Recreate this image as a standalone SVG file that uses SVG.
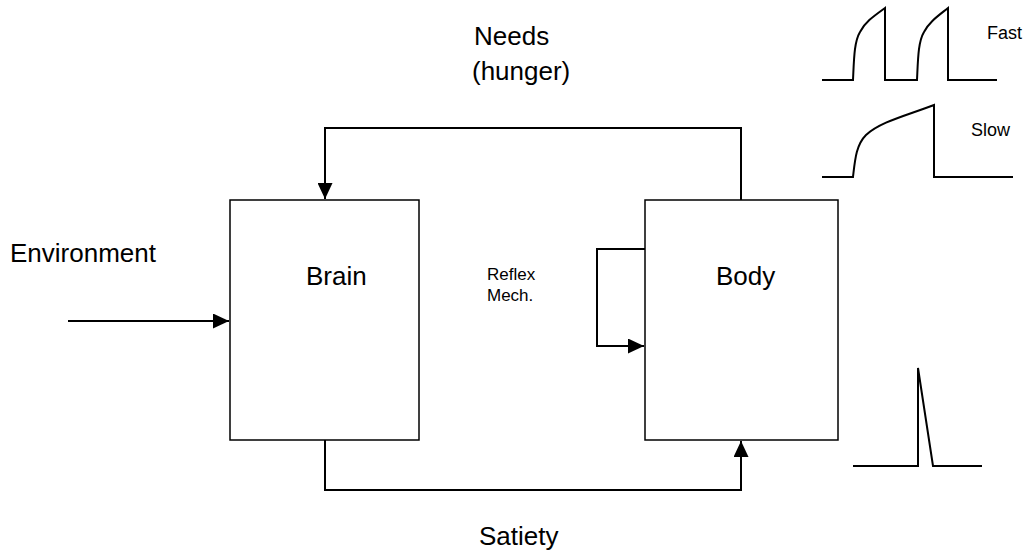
<svg xmlns="http://www.w3.org/2000/svg" width="1031" height="555" viewBox="0 0 1031 555">
<style>
.ln{fill:none;stroke:#000;stroke-width:2}
.wv{fill:none;stroke:#000;stroke-width:2;stroke-linejoin:miter}
.box{fill:#fff;stroke:#000;stroke-width:1.5}
.t{font-family:"Liberation Sans",Arial,sans-serif;fill:#000}
.big{font-size:26px}
.sm{font-size:17px}
.xs{font-size:18px}
</style>
<defs>
<marker id="ah" viewBox="0 0 16 15" refX="16" refY="7.5" markerWidth="16" markerHeight="15" markerUnits="userSpaceOnUse" orient="auto">
<path d="M0,0 L16,7.5 L0,15 Z" fill="#000"/>
</marker>
</defs>
<rect width="1031" height="555" fill="#fff"/>
<g id="connectors">
<polyline class="ln" points="741,200 741,128 325,128 325,199" marker-end="url(#ah)"/>
<polyline class="ln" points="325,440 325,490 741,490 741,441" marker-end="url(#ah)"/>
<line class="ln" x1="68" y1="321" x2="229" y2="321" marker-end="url(#ah)"/>
<polyline class="ln" points="645,249 597,249 597,346 644,346" marker-end="url(#ah)"/>
</g>
<g id="brain">
<rect class="box" x="230" y="200" width="189" height="240"/>
<text class="t big" x="306" y="285">Brain</text>
</g>
<g id="body">
<rect class="box" x="645" y="200" width="193" height="240"/>
<text class="t big" x="716" y="285">Body</text>
</g>
<g id="labels">
<text class="t big" x="474" y="45">Needs</text>
<text class="t big" x="472" y="80">(hunger)</text>
<text class="t big" x="10" y="262">Environment</text>
<text class="t sm" x="487" y="280">Reflex</text>
<text class="t sm" x="487" y="301">Mech.</text>
<text class="t big" x="479" y="545">Satiety</text>
<text class="t xs" x="987" y="39">Fast</text>
<text class="t xs" x="971" y="136">Slow</text>
</g>
<g id="waveforms">
<path class="wv" d="M822,80 H853 C854,60 854,42 860,32 C865,22 874,16 885,8 V80 H902"/>
<path class="wv" d="M901,80 H917 C918,60 918,42 924,32 C929,22 938,16 948,8 V80 H997"/>
<path class="wv" d="M822,177 H853 C855,160 856,145 866,135 C880,122 905,116 934,105 V177 H1013"/>
<path class="wv" d="M853,466 H918 V368 L933,466 H982"/>
</g>
</svg>
